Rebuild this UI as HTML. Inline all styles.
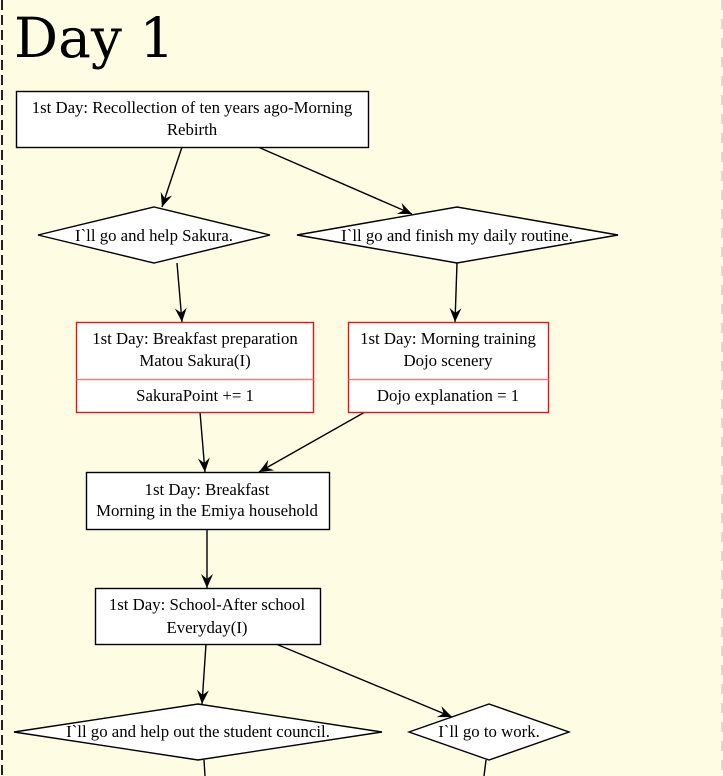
<!DOCTYPE html>
<html><head><meta charset="utf-8"><style>
html,body{margin:0;padding:0;background:#fefce2;}
svg{display:block}
text{font-family:"Liberation Serif",serif;font-size:16.8px;fill:#000;}
</style></head><body>
<svg width="723" height="776" viewBox="0 0 723 776" xmlns="http://www.w3.org/2000/svg">
<defs>
<marker id="a" markerWidth="16" markerHeight="16" refX="14" refY="6" orient="auto" markerUnits="userSpaceOnUse">
<path d="M0,0 L14,6 L0,12 L5,6 Z" fill="#000"/>
</marker>
</defs>
<rect width="723" height="776" fill="#fefce2"/>
<line x1="2" y1="0" x2="2" y2="776" stroke="#222" stroke-width="2" stroke-dasharray="10,5"/>
<line x1="722" y1="0" x2="722" y2="776" stroke="#bbb" stroke-width="1" stroke-dasharray="10,9"/>
<text x="14" y="57" style="font-family:'DejaVu Serif',serif;font-size:55px">Day 1</text>

<g stroke="#000" stroke-width="1.4" fill="none">
<line x1="182" y1="147" x2="162" y2="207" marker-end="url(#a)"/>
<line x1="258" y1="147" x2="412" y2="214" marker-end="url(#a)"/>
<line x1="177" y1="263" x2="182" y2="322" marker-end="url(#a)"/>
<line x1="457" y1="263" x2="455" y2="322" marker-end="url(#a)"/>
<line x1="200" y1="412" x2="205" y2="472" marker-end="url(#a)"/>
<line x1="365" y1="412" x2="259" y2="472" marker-end="url(#a)"/>
<line x1="207" y1="529" x2="207" y2="588" marker-end="url(#a)"/>
<line x1="206" y1="644" x2="202" y2="704" marker-end="url(#a)"/>
<line x1="276" y1="644" x2="452" y2="717" marker-end="url(#a)"/>
<line x1="204" y1="760" x2="205" y2="776"/>
<line x1="486" y1="760" x2="484" y2="776"/>
</g>

<g stroke="#000" stroke-width="1.4" fill="#fff">
<rect x="16.5" y="91.5" width="352" height="56"/>
<polygon points="38,235 154,207 270,235 154,263"/>
<polygon points="297,235 457,207 618,235 457,263"/>
<rect x="86.5" y="472.5" width="243" height="57"/>
<rect x="95.5" y="588.5" width="225" height="56"/>
<polygon points="14,732 198,704 382,732 198,760"/>
<polygon points="409,732 489,704 569,732 489,760"/>
</g>
<g stroke="#e21818" stroke-width="1.4" fill="#fff">
<rect x="76.5" y="322.5" width="237" height="90"/>
<line x1="76.5" y1="379.5" x2="313.5" y2="379.5" stroke="#f08080"/>
<rect x="348.5" y="322.5" width="200" height="90"/>
<line x1="348.5" y1="379.5" x2="548.5" y2="379.5" stroke="#f08080"/>
</g>

<g text-anchor="middle">
<text x="192" y="113">1st Day: Recollection of ten years ago-Morning</text>
<text x="192" y="135">Rebirth</text>
<text x="154" y="241">I`ll go and help Sakura.</text>
<text x="457" y="241">I`ll go and finish my daily routine.</text>
<text x="195" y="344">1st Day: Breakfast preparation</text>
<text x="195" y="366">Matou Sakura(I)</text>
<text x="195" y="401">SakuraPoint += 1</text>
<text x="448" y="344">1st Day: Morning training</text>
<text x="448" y="366">Dojo scenery</text>
<text x="448" y="401">Dojo explanation = 1</text>
<text x="207" y="495">1st Day: Breakfast</text>
<text x="207" y="516">Morning in the Emiya household</text>
<text x="207" y="610">1st Day: School-After school</text>
<text x="207" y="633">Everyday(I)</text>
<text x="198" y="737">I`ll go and help out the student council.</text>
<text x="489" y="737">I`ll go to work.</text>
</g>
</svg>
</body></html>
